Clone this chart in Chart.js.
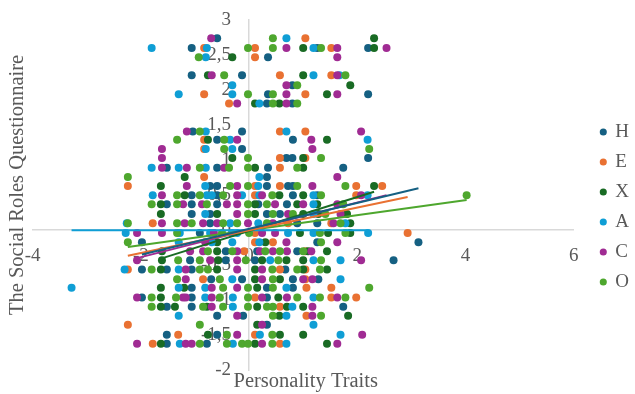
<!DOCTYPE html>
<html>
<head>
<meta charset="utf-8">
<script src="https://cdn.jsdelivr.net/npm/chart.js@4.4.1/dist/chart.umd.min.js"></script>
<style>
  html, body { margin: 0; padding: 0; background: #fff; }
  #wrap { width: 635px; height: 394px; position: relative; }
</style>
</head>
<body>
<div id="wrap"><canvas id="chart"></canvas></div>
<script>
// series names + colours (Office theme accents)
const seriesNames = ['H', 'E', 'X', 'A', 'C', 'O'];
const seriesColors = ['#156082', '#E97132', '#196B24', '#0F9ED5', '#A02B93', '#4EA72E'];

// [personality trait, social roles]
const pointsH = [
  [-0.59,2.74],
  [-1.06,2.60],[1.26,2.60],[2.20,2.60],
  [0.35,2.47],
  [-1.06,2.21],[-0.13,2.21],
  [0.80,2.07],
  [0.35,1.94],[2.20,1.94],
  [0.33,1.81],[0.80,1.81],
  [-1.04,1.41],[-0.13,1.41],
  [-0.59,1.29],[0.81,1.29],
  [-0.13,1.16],
  [0.69,1.03],[0.80,1.03],[2.20,1.03],
  [-1.52,0.89],[-0.59,0.89],[0.35,0.89],[1.74,0.89],
  [0.33,0.76],
  [-0.72,0.63],[-0.59,0.63],[0.33,0.63],[0.72,0.63],[0.81,0.63],
  [-1.06,0.50],[-0.59,0.50],[0.81,0.50],[1.26,0.50],
  [-1.52,0.37],[-1.06,0.37],[-0.59,0.37],[0.17,0.37],[0.70,0.37],
  [-1.06,0.23],[-0.72,0.23],[0.33,0.23],[0.57,0.23],
  [-0.72,0.10],[0.89,0.10],[1.26,0.10],
  [-0.91,-0.04],
  [-1.98,-0.17],[1.26,-0.17],[3.13,-0.17],
  [-0.43,-0.30],[0.15,-0.30],[0.89,-0.30],
  [-1.09,-0.43],[-0.43,-0.43],[0.11,-0.43],[2.67,-0.43],
  [-1.98,-0.56],[-1.52,-0.56],[-1.06,-0.56],[0.67,-0.56],
  [-0.70,-0.70],[-0.13,-0.70],[0.81,-0.70],[1.28,-0.70],
  [-1.06,-0.82],[0.33,-0.82],[0.81,-0.82],
  [-1.98,-0.96],[-1.06,-0.96],[0.33,-0.96],
  [-1.52,-1.09],[-1.06,-1.09],[1.74,-1.09],
  [-0.59,-1.22],[-0.11,-1.22],
  [0.33,-1.35],
  [-1.52,-1.49],[-0.59,-1.49],
  [-1.52,-1.62],[-0.78,-1.62]
];
const pointsE = [
  [1.04,2.74],
  [-0.83,2.60],[0.11,2.60],[1.52,2.60],
  [0.11,2.47],
  [0.57,2.21],[1.52,2.21],
  [-0.83,1.94],[1.04,1.94],
  [-0.37,1.81],
  [0.57,1.41],[1.04,1.41],
  [-0.83,1.29],
  [-0.83,1.16],
  [0.57,1.03],[1.04,1.03],
  [0.57,0.89],
  [-0.83,0.76],
  [-2.24,0.63],[0.11,0.63],[0.57,0.63],[1.98,0.63],[2.46,0.63],
  [0.11,0.50],[1.98,0.50],
  [-1.78,0.10],[0.72,0.10],[1.52,0.10],
  [0.11,-0.04],[2.93,-0.04],
  [0.11,-0.17],[0.44,-0.17],
  [-0.09,-0.30],[1.04,-0.30],
  [-2.24,-0.56],[0.57,-0.56],[1.04,-0.56],
  [-0.85,-0.70],[1.04,-0.70],
  [1.06,-0.82],[1.52,-0.82],
  [0.11,-0.96],[1.52,-0.96],[1.98,-0.96],
  [0.57,-1.09],
  [1.06,-1.22],
  [-2.24,-1.35],
  [-1.31,-1.49],[0.11,-1.49],
  [-1.78,-1.62],[0.57,-1.62]
];
const pointsX = [
  [2.31,2.74],
  [1.00,2.60],[2.31,2.60],
  [-0.31,2.47],
  [-0.76,2.21],[1.00,2.21],
  [1.87,2.07],
  [1.44,1.94],
  [0.11,1.81],[0.56,1.81],
  [-0.76,1.29],[1.44,1.29],
  [-0.31,1.03],[1.00,1.03],
  [0.11,0.89],[1.00,0.89],
  [-1.19,0.76],
  [-1.63,0.63],[2.31,0.63],
  [-1.19,0.50],[0.56,0.50],[1.00,0.50],
  [-1.63,0.37],[0.11,0.37],[0.89,0.37],[1.26,0.37],
  [-1.63,0.23],[-0.59,0.23],[0.11,0.23],[1.00,0.23],[1.28,0.23],[1.81,0.23],
  [1.87,0.10],
  [0.94,-0.04],[1.46,-0.04],[1.87,-0.04],
  [-0.59,-0.17],[0.30,-0.17],
  [-1.61,-0.30],[-0.59,-0.30],[1.09,-0.30],[1.44,-0.30],
  [-1.61,-0.43],[-0.57,-0.43],[0.24,-0.43],[0.69,-0.43],[1.00,-0.43],
  [-1.63,-0.56],[-0.59,-0.56],[0.11,-0.56],[1.00,-0.56],[1.44,-0.56],
  [0.11,-0.70],[0.57,-0.70],
  [-1.63,-0.82],[-1.20,-0.82],[0.15,-0.82],
  [-1.63,-0.96],[0.54,-0.96],
  [-1.63,-1.09],[-1.37,-1.09],[-0.78,-1.09],[0.15,-1.09],[0.70,-1.09],[1.00,-1.09],
  [0.56,-1.22],[1.83,-1.22],
  [0.15,-1.35],
  [-0.76,-1.49],[0.57,-1.49],[1.00,-1.49],
  [-1.63,-1.62],[0.11,-1.62],[1.44,-1.62]
];
const pointsA = [
  [0.69,2.74],
  [-1.80,2.60],[-0.78,2.60],[1.19,2.60],
  [-0.80,2.47],
  [1.19,2.21],[1.67,2.21],
  [-0.31,2.07],
  [-1.30,1.94],[-0.31,1.94],
  [0.19,1.81],
  [-0.80,1.41],[0.69,1.41],
  [-0.35,1.29],[2.19,1.29],
  [-0.80,1.16],[-0.31,1.16],
  [-1.80,0.89],[-1.30,0.89],[-0.80,0.89],
  [0.19,0.76],
  [-0.81,0.63],[0.17,0.63],
  [-1.78,0.50],[-0.78,0.50],[-0.69,0.50],[-0.13,0.50],[0.19,0.50],[1.19,0.50],[2.19,0.50],
  [1.19,0.37],
  [-0.81,0.23],[1.19,0.23],
  [-2.26,0.10],[-0.35,0.10],[0.17,0.10],[1.78,0.10],
  [-2.28,-0.04],[-1.28,-0.04],[-0.72,-0.04],[-0.31,-0.04],[-0.22,-0.04],[0.72,-0.04],[1.19,-0.04],[2.20,-0.04],
  [-1.30,-0.17],[-0.69,-0.17],[-0.31,-0.17],[0.19,-0.17],
  [0.39,-0.43],[1.19,-0.43],[1.69,-0.43],
  [-2.30,-0.56],[-1.30,-0.56],
  [-0.31,-0.70],[1.69,-0.70],
  [-3.28,-0.82],[-1.30,-0.82],[-0.81,-0.82],[0.69,-0.82],
  [-0.81,-0.96],[-0.30,-0.96],[1.19,-0.96],
  [-0.30,-1.09],[0.80,-1.09],
  [-1.30,-1.22],[0.69,-1.22],
  [1.19,-1.35],
  [0.20,-1.49],[1.69,-1.49],
  [-1.28,-1.62],[-0.30,-1.62],[0.69,-1.62]
];
const pointsC = [
  [-0.70,2.74],
  [0.69,2.60],[1.63,2.60],[2.54,2.60],
  [1.63,2.47],
  [-0.69,2.21],[1.63,2.21],
  [0.69,2.07],
  [0.69,1.94],[1.63,1.94],
  [-0.22,1.81],[0.69,1.81],
  [-1.15,1.41],[2.07,1.41],
  [-0.22,1.29],[1.15,1.29],
  [-1.61,1.16],[1.17,1.16],
  [-1.61,1.03],
  [-1.61,0.89],[-1.15,0.89],[-0.46,0.89],
  [1.63,0.76],
  [-1.15,0.63],[-0.22,0.63],[1.17,0.63],
  [-1.61,0.50],[-0.22,0.50],[0.24,0.50],[2.07,0.50],
  [-1.22,0.37],[-0.87,0.37],[-0.41,0.37],[-0.22,0.37],[0.48,0.37],[1.00,0.37],[1.63,0.37],
  [-0.22,0.23],[0.72,0.23],[1.69,0.23],
  [-1.61,0.10],[-1.19,0.10],[-0.85,0.10],[-0.59,0.10],[-0.02,0.10],[0.44,0.10],[1.56,0.10],
  [-2.07,-0.04],[-1.61,-0.04],[-0.65,-0.04],[0.24,-0.04],[0.48,-0.04],
  [-0.81,-0.17],[0.69,-0.17],[1.63,-0.17],
  [-1.09,-0.30],[-0.85,-0.30],[-0.22,-0.30],[0.20,-0.30],[0.44,-0.30],[0.70,-0.30],[1.15,-0.30],
  [-2.07,-0.43],[-0.72,-0.43],[-0.22,-0.43],[2.07,-0.43],
  [-1.17,-0.56],[-0.22,-0.56],[0.24,-0.56],
  [-1.17,-0.70],[0.24,-0.70],[1.00,-0.70],[1.17,-0.70],
  [-0.69,-0.82],[-0.22,-0.82],
  [-2.07,-0.96],[-1.22,-0.96],[-1.17,-0.96],[-0.69,-0.96],[0.24,-0.96],[0.70,-0.96],[1.63,-0.96],
  [-0.69,-1.09],[1.17,-1.09],
  [-0.22,-1.22],[1.17,-1.22],
  [0.24,-1.35],
  [-0.22,-1.49],[2.09,-1.49],
  [-2.07,-1.62],[-1.17,-1.62],[-1.06,-1.62],[0.24,-1.62],[1.63,-1.62]
];
const pointsO = [
  [0.44,2.74],
  [-0.02,2.60],[0.44,2.60],[1.33,2.60],
  [-0.93,2.47],
  [-0.46,2.21],[1.78,2.21],
  [0.89,2.07],
  [-0.02,1.94],[0.44,1.94],
  [0.44,1.81],[0.89,1.81],
  [-0.91,1.41],
  [-1.33,1.29],[-0.46,1.29],
  [-0.46,1.16],[2.22,1.16],
  [-0.02,1.03],[1.33,1.03],
  [-0.91,0.89],[-0.37,0.89],[-0.02,0.89],[0.89,0.89],
  [-2.24,0.76],
  [-0.35,0.63],[-0.02,0.63],[0.89,0.63],[1.78,0.63],
  [-1.33,0.50],[-0.91,0.50],[-0.48,0.50],[0.43,0.50],[1.33,0.50],[4.02,0.50],
  [-1.80,0.37],[-1.33,0.37],[-0.78,0.37],[-0.02,0.37],[0.33,0.37],[1.74,0.37],
  [-0.02,0.23],[0.44,0.23],[0.81,0.23],[1.41,0.23],
  [-2.24,0.10],[-1.33,0.10],[-1.06,0.10],[-0.48,0.10],[-0.22,0.10],[0.33,0.10],[1.69,0.10],
  [-1.33,-0.04],[-0.50,-0.04],[0.00,-0.04],[1.31,-0.04],[1.78,-0.04],
  [-2.24,-0.17],[1.33,-0.17],
  [-0.76,-0.30],[-0.31,-0.30],[0.30,-0.30],[0.57,-0.30],[1.00,-0.30],
  [-1.31,-0.43],[-0.91,-0.43],[-0.06,-0.43],[0.54,-0.43],[1.33,-0.43],
  [-1.80,-0.56],[-0.91,-0.56],[-0.76,-0.56],[0.43,-0.56],[0.89,-0.56],[1.31,-0.56],
  [-1.33,-0.70],[-0.54,-0.70],[0.44,-0.70],
  [-0.48,-0.82],[-0.02,-0.82],[0.44,-0.82],[2.22,-0.82],
  [-1.80,-0.96],[-1.35,-0.96],[-0.54,-0.96],[-0.02,-0.96],[0.89,-0.96],[1.31,-0.96],[1.78,-0.96],
  [-1.80,-1.09],[-0.85,-1.09],[-0.48,-1.09],[-0.02,-1.09],[0.33,-1.09],[0.44,-1.09],
  [0.44,-1.22],[1.33,-1.22],
  [-0.91,-1.35],
  [-0.41,-1.49],[0.43,-1.49],
  [-0.91,-1.62],[-0.41,-1.62],[-0.13,-1.62],[-0.02,-1.62],[0.43,-1.62]
];
const seriesPoints = [pointsH, pointsE, pointsX, pointsA, pointsC, pointsO];

// linear trendlines (slope, intercept) per series
const trendSlope = [0.185, 0.162, 0.242, 0.0, 0.195, 0.107];
const trendIntercept = [0.02, 0.0, -0.01, 0.0, 0.006, 0.0];

const xMin = -4, xMax = 6, xStep = 2;
const yMin = -2, yMax = 3, yStep = 0.5;

const xTitle = 'Personality Traits';
const yTitle = 'The Social Roles Questionnaire';

const textColor = '#595959';
const axisColor = '#d9d9d9';
const serif = 'Liberation Serif, Times New Roman, serif';

const datasets = [];
seriesNames.forEach((name, i) => {
  datasets.push({
    label: name,
    data: seriesPoints[i].map(p => ({x: p[0], y: p[1]})),
    backgroundColor: seriesColors[i],
    borderColor: seriesColors[i],
    borderWidth: 0,
    pointRadius: 4,
    pointHoverRadius: 4,
    pointStyle: 'circle',
    showLine: false,
    order: 10 + (seriesNames.length - 1 - i)
  });
});
seriesNames.forEach((name, i) => {
  const xs = seriesPoints[i].map(p => p[0]);
  const lo = Math.min(...xs), hi = Math.max(...xs);
  datasets.push({
    label: name + ' trend',
    data: [lo, hi].map(x => ({x: x, y: trendSlope[i] * x + trendIntercept[i]})),
    borderColor: seriesColors[i],
    backgroundColor: seriesColors[i],
    borderWidth: 2,
    pointRadius: 0,
    showLine: true,
    order: i
  });
});

// nudge the legend a bit right of the plot, like the original
const legendShift = { dx: 16, dy: 0 };
const legendNudge = {
  id: 'legendNudge',
  afterLayout(chart) {
    const lg = chart.legend;
    if (!lg) return;
    lg.left += legendShift.dx; lg.right += legendShift.dx;
    lg.top += legendShift.dy; lg.bottom += legendShift.dy;
  }
};

const ctx = document.getElementById('chart').getContext('2d');
new Chart(ctx, {
  type: 'scatter',
  data: { datasets: datasets },
  plugins: [legendNudge],
  options: {
    responsive: true,
    maintainAspectRatio: false,
    animation: false,
    layout: { padding: { left: 1, top: 20, right: 12, bottom: 0 } },
    scales: {
      x: {
        type: 'linear', min: xMin, max: xMax,
        position: { y: 0 },
        grid: { display: false },
        border: { display: true, color: axisColor, width: 1.5 },
        ticks: { stepSize: xStep, padding: 6, color: textColor, font: { family: serif, size: 19 } }
      },
      y: {
        type: 'linear', min: yMin, max: yMax,
        position: { x: 0 },
        grid: { display: false },
        border: { display: true, color: axisColor, width: 1.5 },
        ticks: {
          stepSize: yStep, color: textColor, font: { family: serif, size: 19 },
          callback: v => String(v).replace('.', ',') + '   \u2009'
        }
      },
      xt: {
        type: 'linear', position: 'bottom',
        grid: { display: false, drawTicks: false }, border: { display: false },
        ticks: { display: false },
        title: { display: true, text: ' ' + xTitle, color: textColor, font: { family: serif, size: 20.5 }, padding: { top: -1, bottom: 0 } }
      },
      yt: {
        type: 'linear', position: 'left',
        grid: { display: false, drawTicks: false }, border: { display: false },
        ticks: { display: false },
        title: { display: true, text: '    ' + yTitle, color: textColor, font: { family: serif, size: 20.5 }, padding: { top: 4, bottom: 3 } }
      }
    },
    plugins: {
      tooltip: { enabled: false },
      legend: {
        position: 'right',
        reverse: true,
        labels: {
          usePointStyle: true,
          boxWidth: 5,
          boxHeight: 5,
          padding: 11,
          color: textColor,
          font: { family: serif, size: 19 },
          filter: item => item.datasetIndex < seriesNames.length
        }
      }
    }
  }
});
</script>
</body>
</html>
